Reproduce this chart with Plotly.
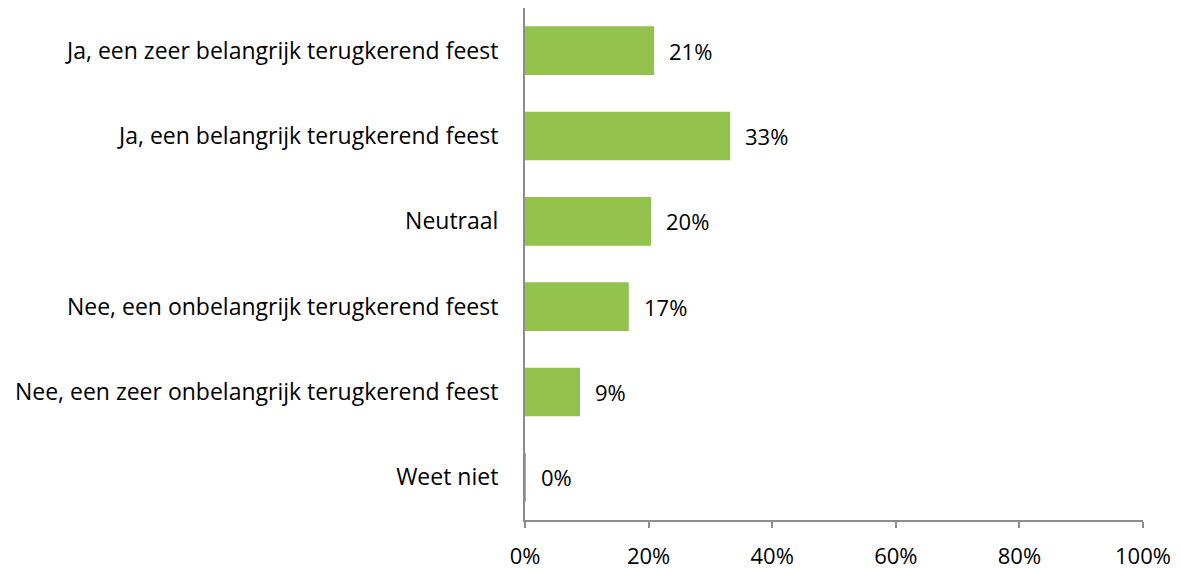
import plotly.graph_objects as go

categories = [
    "Ja, een zeer belangrijk terugkerend feest",
    "Ja, een belangrijk terugkerend feest",
    "Neutraal",
    "Nee, een onbelangrijk terugkerend feest",
    "Nee, een zeer onbelangrijk terugkerend feest",
    "Weet niet",
]
values = [20.9, 33.2, 20.4, 16.8, 8.9, 0.1]
tick_vals = [0, 20, 40, 60, 80, 100]
tick_text = ["0%", "20%", "40%", "60%", "80%", "100%"]

bar_color = "#92C24B"
axis_color = "#8C8C8C"
font_family = "Open Sans, Liberation Sans, sans-serif"
font_size = 22

fig = go.Figure()
fig.add_trace(go.Bar(
    x=values,
    y=categories,
    orientation="h",
    marker=dict(color=bar_color, line=dict(width=0)),
    hoverinfo="skip",
))

for c, v in zip(categories, values):
    fig.add_annotation(
        x=v, y=c, xref="x", yref="y",
        text=f"{v:.0f}%", showarrow=False,
        xanchor="left", yanchor="middle", xshift=13,
        font=dict(family=font_family, size=font_size, color="#000000"),
    )

fig.update_layout(
    width=1180, height=569,
    margin=dict(l=517, r=45, t=0, b=57, autoexpand=False),
    plot_bgcolor="white", paper_bgcolor="white",
    bargap=0.43,
    showlegend=False,
    font=dict(family=font_family, size=font_size, color="#000000"),
)
fig.update_xaxes(
    range=[0, 100],
    tickvals=tick_vals, ticktext=tick_text,
    showgrid=False, zeroline=False,
    showline=True, linecolor=axis_color, linewidth=2,
    ticks="outside", ticklen=6, tickwidth=2, tickcolor=axis_color,
    ticklabelstandoff=10,
    tickfont=dict(family=font_family, size=font_size, color="#000000"),
)
fig.update_yaxes(
    categoryorder="array", categoryarray=categories[::-1],
    showgrid=False, zeroline=False,
    showline=True, linecolor=axis_color, linewidth=2,
    ticks="", ticklabelstandoff=20,
    tickfont=dict(family=font_family, size=23, color="#000000"),
)

fig.write_html("out.html")
